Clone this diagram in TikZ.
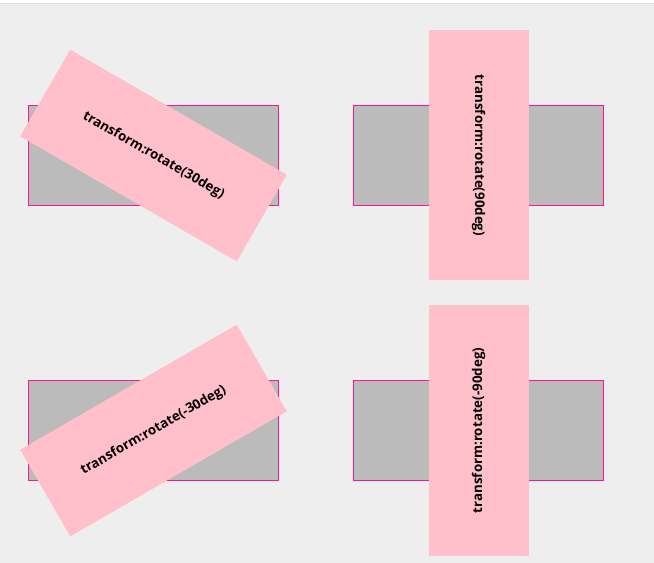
\documentclass[tikz,border=0pt]{standalone}
\usepackage{fontspec}
\setmainfont{Open Sans}
\usepackage{tikz}
\definecolor{pagebg}{HTML}{EEEEEE}
\definecolor{pageline}{HTML}{DDDDDD}
\definecolor{boxgray}{HTML}{BBBBBB}
\definecolor{boxline}{HTML}{FF1493}
\definecolor{turnpink}{HTML}{FFC0CB}

\begin{document}
\begin{tikzpicture}[x=0.75pt,y=-0.75pt,
	box/.style={draw=boxline, fill=boxgray, line width=0.75pt, minimum width=187.5pt, minimum height=75pt, inner sep=0pt},
	turned/.style={fill=turnpink, minimum width=187.5pt, minimum height=75pt, inner sep=0pt, font=\bfseries\fontsize{10}{12}\selectfont}]
	\useasboundingbox (0,0) rectangle (654,563);
	\fill[white] (0,0) rectangle (654,563);
	\fill[pagebg] (0,4) rectangle (654,563);
	\draw[pageline, line width=0.75pt] (0,3.5) -- (654,3.5);
	\node[box] (tl) at (153.5,155.5) {};
	\node[box] (tr) at (478.5,155.5) {};
	\node[box] (bl) at (153.5,430.5) {};
	\node[box] (br) at (478.5,430.5) {};
	\node[turned, rotate=-30] (tlturn) at (tl.center) {transform:rotate(30deg)};
	\node[turned, rotate=-90] (trturn) at (tr.center) {transform:rotate(90deg)};
	\node[turned, rotate=30] (blturn) at (bl.center) {transform:rotate(-30deg)};
	\node[turned, rotate=90] (brturn) at (br.center) {transform:rotate(-90deg)};
\end{tikzpicture}
\end{document}
